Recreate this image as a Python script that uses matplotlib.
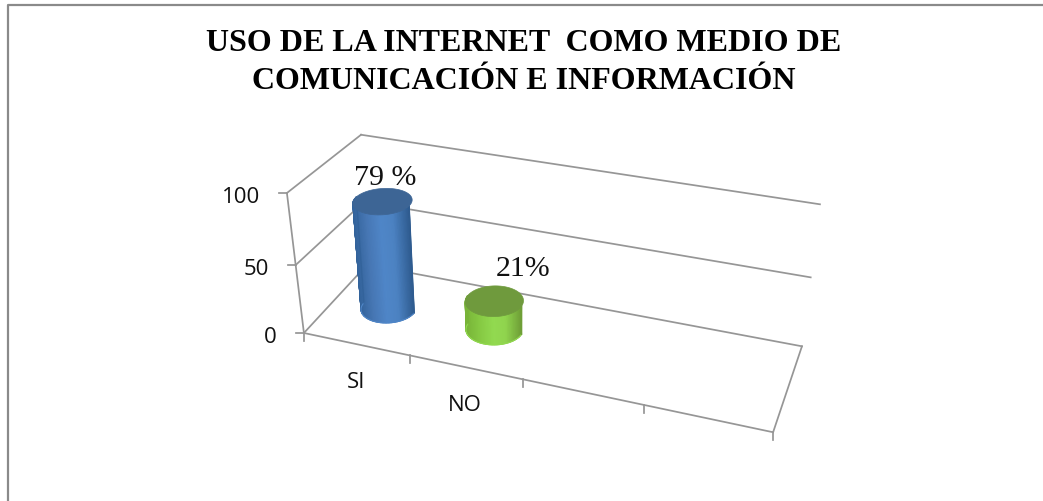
import numpy as np
import matplotlib
matplotlib.use("Agg")
import matplotlib.pyplot as plt
from matplotlib.patches import Polygon
from matplotlib.colors import to_rgb

categories = ["SI", "NO"]
values = [79, 21]
value_labels = ["79 %", "21%"]
y_ticks = [0, 50, 100]
title_lines = "USO DE LA INTERNET  COMO MEDIO DE\nCOMUNICACIÓN E INFORMACIÓN"
n_slots = 4

fig = plt.figure(figsize=(10.43, 5.01), dpi=100)
ax = fig.add_axes([0, 0, 1, 1])

# Projection calibration: floor (slot, depth) homography
floor_w = np.array([[0, 0], [4, 0], [0, 1], [4, 1], [1, 0], [2, 0], [3, 0]], float)
floor_i = np.array([[304, 332], [773, 432], [367, 265], [802, 346],
                    [410, 356], [523, 380], [644, 405]], float)
A, b = [], []
for (X, Y), (px, py) in zip(floor_w, floor_i):
    A.append([X, Y, 1, 0, 0, 0, -px * X, -px * Y])
    b.append(px)
    A.append([0, 0, 0, X, Y, 1, -py * X, -py * Y])
    b.append(py)
H = np.append(np.linalg.lstsq(np.array(A, float), np.array(b, float), rcond=None)[0], 1).reshape(3, 3)
# Offset of the 100 level above each floor corner
rise_fl, rise_fr = np.array([-17.0, -140.0]), np.array([12.0, -150.0])
rise_bl, rise_br = np.array([-6.0, -130.0]), np.array([18.0, -142.0])
K = 1.06


def proj(u, w, v):
    u, w, v = np.broadcast_arrays(np.asarray(u, float), np.asarray(w, float), np.asarray(v, float))
    h = H @ np.stack([u, w, np.ones_like(u)])
    fx, fy = h[0] / h[2], h[1] / h[2]
    a, c = u / n_slots, w
    f = v / (v + K * (100 - v))
    rx = (1 - c) * ((1 - a) * rise_fl[0] + a * rise_fr[0]) + c * ((1 - a) * rise_bl[0] + a * rise_br[0])
    ry = (1 - c) * ((1 - a) * rise_fl[1] + a * rise_fr[1]) + c * ((1 - a) * rise_bl[1] + a * rise_br[1])
    return fx + f * rx, fy + f * ry


line_col = "#969696"
lw = 1.25
tick_font = "Open Sans"


def seg(a, b):
    x0, y0 = proj(*a)
    x1, y1 = proj(*b)
    ax.plot([x0, x1], [y0, y1], color=line_col, lw=lw, solid_capstyle="projecting", zorder=2)


# Outer chart frame (left and top edges only)
ax.plot([8, 8, 1043], [501, 4.5, 4.5], color="#8a8a8a", lw=1.6, zorder=1)

# Walls, gridlines and floor
for t in y_ticks:
    seg((0, 0, t), (0, 1, t))
    seg((0, 1, t), (4, 1, t))
    x0, y0 = proj(0, 0, t)
    ax.plot([x0 - 8, x0], [y0, y0], color=line_col, lw=lw, zorder=2)
    ax.text(x0 - 27, y0 + 4, str(t), ha="right", va="center",
            fontsize=16, family=tick_font, color="#111111")
seg((0, 0, 0), (0, 0, 100))
seg((0, 0, 0), (4, 0, 0))
seg((4, 0, 0), (4, 1, 0))
for i in range(n_slots + 1):
    x0, y0 = proj(i, 0, 0)
    ax.plot([x0, x0], [y0, y0 + 8], color=line_col, lw=lw, zorder=2)
for i, c in enumerate(categories):
    x0, y0 = proj(i + 0.5, 0, 0)
    ax.text(x0 - 0.5, y0 + 38, c, ha="center", va="center", fontsize=16,
            family=tick_font, color="#111111")

# Cylinders
styles = [
    dict(stops=["#33639b", "#4777b4", "#4f86c8", "#4c82c2", "#2f5c90"], top="#3d6595"),
    dict(stops=["#78b338", "#86c943", "#92da50", "#90d44e", "#6f9f37"], top="#6f9a3d"),
]
TH = np.linspace(np.pi, 2 * np.pi, 61)
TH_all = np.linspace(0, 2 * np.pi, 181)
ru, rw = 0.245, 0.20
label_off = [(3, -23), (29, -32)]
pos = np.array([0, .25, .5, .72, 1])
for i, (val, st) in enumerate(zip(values, styles)):
    cu = i + 0.515
    xb, yb = proj(cu + ru * np.cos(TH), 0.5 + rw * np.sin(TH), 0)
    xt, yt = proj(cu + ru * np.cos(TH), 0.5 + rw * np.sin(TH), val)
    s = (xb - xb.min()) / (xb.max() - xb.min())
    rgb = np.array([to_rgb(c) for c in st["stops"]])
    col = np.stack([np.interp(s, pos, rgb[:, j]) for j in range(3)], axis=-1)
    ax.pcolormesh(np.stack([xb, xt]), np.stack([yb, yt]), np.stack([col, col]),
                  shading="gouraud", zorder=3)
    # antialiased outline hides the jagged mesh edges
    ax.plot(xb, yb, color=st["stops"][2], lw=0.8, zorder=3.1)
    ax.plot([xb[0], xt[0]], [yb[0], yt[0]], color=st["stops"][0], lw=1.0, zorder=3.1)
    ax.plot([xb[-1], xt[-1]], [yb[-1], yt[-1]], color=st["stops"][4], lw=1.0, zorder=3.1)
    xe, ye = proj(cu + ru * np.cos(TH_all), 0.5 + rw * np.sin(TH_all), val)
    ax.add_patch(Polygon(np.c_[xe, ye], closed=True, fc=st["top"], ec=st["top"], lw=0.5, zorder=4))
    xl, yl = proj(cu, 0.5, val)
    ax.text(xl + label_off[i][0], yl + label_off[i][1], value_labels[i], ha="center", va="center",
            fontsize=21.5, family="Liberation Serif", color="#111111", zorder=5)

ax.text(524, 62.5, title_lines, ha="center", va="center", fontsize=23, fontweight="bold",
        family="Liberation Serif", color="black", linespacing=1.42)

ax.set_xlim(0, 1043)
ax.set_ylim(501, 0)
ax.axis("off")
fig.savefig("out.png", dpi=100, facecolor="white")
